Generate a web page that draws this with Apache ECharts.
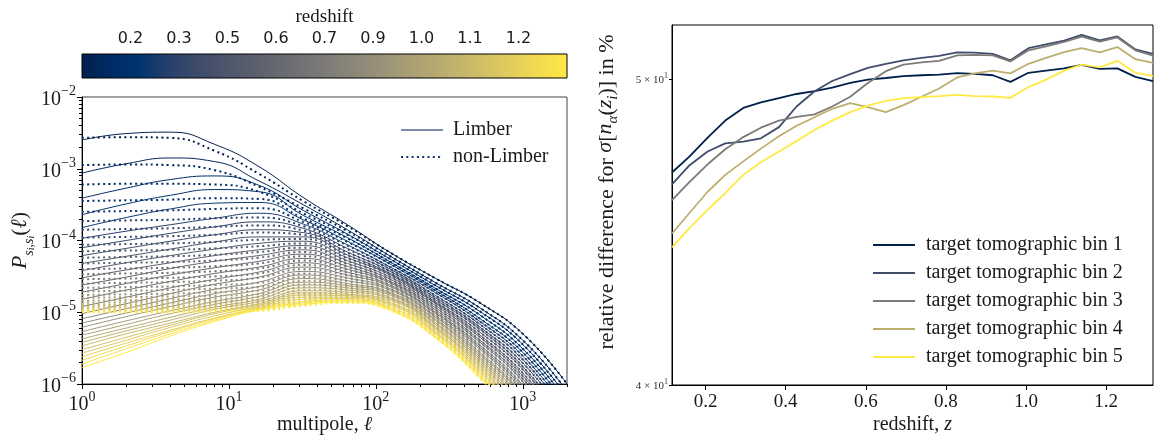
<!DOCTYPE html>
<html>
<head>
<meta charset="utf-8">
<script src="https://cdn.jsdelivr.net/npm/echarts@6/dist/echarts.min.js"></script>
<style>
  html, body { margin: 0; padding: 0; background: #fff; }
  #chart { width: 1154px; height: 437px; }
</style>
</head>
<body>
<div id="chart"></div>
<script>
// ---- data: left panel, angular power spectra per redshift shell (log10 values) ----
const multipoles = [1, 2, 4, 8, 16, 32, 64, 128, 256, 512, 1024, 2000];

const limberLog = [
  [-2.60, -2.51, -2.49, -2.66, -2.97, -3.40, -3.78, -4.18, -4.53, -4.87, -5.32, -6.00],
  [-3.06, -2.93, -2.85, -2.90, -3.17, -3.50, -3.85, -4.23, -4.59, -4.94, -5.41, -6.10],
  [-3.41, -3.27, -3.15, -3.10, -3.23, -3.58, -3.91, -4.27, -4.63, -4.99, -5.47, -6.18],
  [-3.64, -3.49, -3.37, -3.29, -3.32, -3.65, -3.96, -4.31, -4.67, -5.04, -5.53, -6.24],
  [-3.82, -3.68, -3.56, -3.48, -3.47, -3.71, -4.01, -4.34, -4.70, -5.09, -5.58, -6.31],
  [-3.97, -3.87, -3.78, -3.69, -3.62, -3.77, -4.06, -4.38, -4.73, -5.13, -5.63, -6.37],
  [-4.10, -4.00, -3.90, -3.81, -3.74, -3.83, -4.11, -4.41, -4.77, -5.17, -5.68, -6.43],
  [-4.21, -4.11, -4.01, -3.92, -3.85, -3.89, -4.16, -4.44, -4.80, -5.21, -5.73, -6.48],
  [-4.32, -4.22, -4.12, -4.02, -3.95, -3.95, -4.20, -4.47, -4.83, -5.24, -5.78, -6.54],
  [-4.42, -4.31, -4.21, -4.12, -4.04, -4.01, -4.24, -4.49, -4.86, -5.28, -5.82, -6.59],
  [-4.52, -4.41, -4.31, -4.21, -4.13, -4.07, -4.28, -4.52, -4.88, -5.32, -5.87, -6.64],
  [-4.62, -4.51, -4.39, -4.29, -4.21, -4.13, -4.32, -4.55, -4.91, -5.35, -5.91, -6.69],
  [-4.72, -4.60, -4.48, -4.38, -4.29, -4.19, -4.36, -4.58, -4.94, -5.39, -5.95, -6.74],
  [-4.82, -4.69, -4.57, -4.46, -4.37, -4.25, -4.40, -4.60, -4.97, -5.42, -5.99, -6.79],
  [-4.92, -4.79, -4.66, -4.54, -4.44, -4.31, -4.44, -4.63, -5.00, -5.46, -6.04, -6.84],
  [-5.02, -4.88, -4.74, -4.61, -4.51, -4.37, -4.48, -4.65, -5.02, -5.49, -6.08, -6.89],
  [-5.09, -4.95, -4.81, -4.68, -4.58, -4.43, -4.52, -4.68, -5.05, -5.52, -6.12, -6.93],
  [-5.15, -5.01, -4.87, -4.74, -4.64, -4.48, -4.56, -4.70, -5.07, -5.56, -6.16, -6.98],
  [-5.21, -5.06, -4.92, -4.79, -4.69, -4.53, -4.60, -4.73, -5.10, -5.59, -6.19, -7.02],
  [-5.27, -5.12, -4.98, -4.85, -4.74, -4.58, -4.63, -4.75, -5.12, -5.62, -6.23, -7.07],
  [-5.32, -5.17, -5.02, -4.89, -4.78, -4.62, -4.66, -4.77, -5.15, -5.65, -6.27, -7.11],
  [-5.37, -5.22, -5.07, -4.93, -4.82, -4.66, -4.69, -4.80, -5.17, -5.68, -6.31, -7.16],
  [-5.42, -5.26, -5.11, -4.96, -4.85, -4.70, -4.72, -4.82, -5.20, -5.71, -6.35, -7.20],
  [-5.47, -5.30, -5.15, -5.00, -4.88, -4.73, -4.75, -4.84, -5.22, -5.74, -6.38, -7.25],
  [-5.52, -5.35, -5.18, -5.02, -4.90, -4.76, -4.77, -4.87, -5.24, -5.77, -6.42, -7.29],
  [-5.57, -5.39, -5.21, -5.05, -4.92, -4.79, -4.79, -4.89, -5.27, -5.80, -6.46, -7.33],
  [-5.62, -5.43, -5.25, -5.08, -4.94, -4.82, -4.81, -4.91, -5.29, -5.83, -6.49, -7.37],
  [-5.67, -5.47, -5.27, -5.09, -4.95, -4.85, -4.83, -4.94, -5.31, -5.86, -6.53, -7.42],
  [-5.72, -5.51, -5.30, -5.11, -4.96, -4.87, -4.84, -4.96, -5.34, -5.89, -6.56, -7.46],
  [-5.77, -5.56, -5.33, -5.13, -4.97, -4.89, -4.86, -4.98, -5.36, -5.92, -6.60, -7.50]
];

const nonLimberLog = [
  [-2.57, -2.56, -2.57, -2.75, -3.07, -3.45, -3.80, -4.18, -4.53, -4.87, -5.32, -6.00],
  [-2.95, -2.94, -2.95, -3.02, -3.25, -3.55, -3.87, -4.23, -4.59, -4.94, -5.41, -6.10],
  [-3.22, -3.21, -3.21, -3.22, -3.32, -3.62, -3.92, -4.27, -4.63, -4.99, -5.47, -6.18],
  [-3.45, -3.44, -3.43, -3.41, -3.42, -3.69, -3.97, -4.31, -4.67, -5.04, -5.53, -6.24],
  [-3.60, -3.59, -3.58, -3.56, -3.55, -3.74, -4.02, -4.34, -4.70, -5.09, -5.58, -6.31],
  [-3.73, -3.72, -3.71, -3.69, -3.68, -3.80, -4.07, -4.38, -4.73, -5.13, -5.63, -6.37],
  [-3.85, -3.84, -3.83, -3.81, -3.79, -3.86, -4.12, -4.41, -4.77, -5.17, -5.68, -6.43],
  [-3.96, -3.95, -3.94, -3.92, -3.89, -3.92, -4.17, -4.44, -4.80, -5.21, -5.73, -6.48],
  [-4.06, -4.05, -4.04, -4.02, -3.99, -3.98, -4.21, -4.47, -4.83, -5.24, -5.78, -6.54],
  [-4.15, -4.14, -4.13, -4.11, -4.08, -4.04, -4.25, -4.49, -4.86, -5.28, -5.82, -6.59],
  [-4.24, -4.23, -4.22, -4.20, -4.16, -4.10, -4.29, -4.52, -4.88, -5.32, -5.87, -6.64],
  [-4.32, -4.31, -4.30, -4.28, -4.24, -4.16, -4.33, -4.55, -4.91, -5.35, -5.91, -6.69],
  [-4.40, -4.39, -4.38, -4.36, -4.32, -4.22, -4.37, -4.58, -4.94, -5.39, -5.95, -6.74],
  [-4.47, -4.46, -4.45, -4.43, -4.39, -4.28, -4.41, -4.60, -4.97, -5.42, -5.99, -6.79],
  [-4.54, -4.53, -4.52, -4.50, -4.46, -4.34, -4.45, -4.63, -5.00, -5.46, -6.04, -6.84],
  [-4.60, -4.59, -4.58, -4.56, -4.52, -4.40, -4.49, -4.65, -5.02, -5.49, -6.08, -6.89],
  [-4.66, -4.65, -4.64, -4.62, -4.59, -4.46, -4.53, -4.68, -5.05, -5.52, -6.12, -6.93],
  [-4.71, -4.70, -4.69, -4.67, -4.65, -4.51, -4.57, -4.70, -5.07, -5.56, -6.16, -6.98],
  [-4.76, -4.75, -4.74, -4.72, -4.70, -4.56, -4.61, -4.73, -5.10, -5.59, -6.19, -7.02],
  [-4.80, -4.79, -4.78, -4.77, -4.75, -4.61, -4.64, -4.75, -5.12, -5.62, -6.23, -7.07],
  [-4.84, -4.83, -4.82, -4.81, -4.79, -4.65, -4.67, -4.77, -5.15, -5.65, -6.27, -7.11],
  [-4.87, -4.86, -4.85, -4.84, -4.83, -4.69, -4.70, -4.80, -5.17, -5.68, -6.31, -7.16],
  [-4.90, -4.89, -4.88, -4.87, -4.86, -4.73, -4.73, -4.82, -5.20, -5.71, -6.35, -7.20],
  [-4.92, -4.91, -4.91, -4.90, -4.89, -4.76, -4.76, -4.84, -5.22, -5.74, -6.38, -7.25],
  [-4.94, -4.93, -4.93, -4.92, -4.91, -4.79, -4.78, -4.87, -5.24, -5.77, -6.42, -7.29],
  [-4.96, -4.95, -4.95, -4.94, -4.93, -4.82, -4.80, -4.89, -5.27, -5.80, -6.46, -7.33],
  [-4.97, -4.97, -4.96, -4.96, -4.95, -4.85, -4.82, -4.91, -5.29, -5.83, -6.49, -7.37],
  [-4.98, -4.98, -4.98, -4.97, -4.96, -4.87, -4.84, -4.94, -5.31, -5.86, -6.53, -7.42],
  [-4.99, -4.99, -4.99, -4.98, -4.97, -4.89, -4.85, -4.96, -5.34, -5.89, -6.56, -7.46],
  [-5.00, -5.00, -5.00, -4.99, -4.98, -4.91, -4.87, -4.98, -5.36, -5.92, -6.60, -7.50]
];

// colorbar: shell index axis with redshift labels
const cbTickPos = [3, 6, 9, 12, 15, 18, 21, 24, 27];
const cbLabels = ['0.2', '0.3', '0.5', '0.6', '0.7', '0.9', '1.0', '1.1', '1.2'];

// ---- data: right panel ----
const zGrid = [0.116, 0.160, 0.205, 0.249, 0.294, 0.338, 0.383, 0.427, 0.472, 0.516, 0.561, 0.605, 0.650, 0.694,
  0.739, 0.783, 0.828, 0.872, 0.917, 0.961, 1.006, 1.050, 1.095, 1.139, 1.184, 1.228, 1.273, 1.317];
const bin1 = [46.70, 47.25, 47.90, 48.50, 48.95, 49.15, 49.30, 49.45, 49.55, 49.68, 49.85, 49.97, 50.03, 50.10,
  50.13, 50.15, 50.21, 50.18, 50.13, 49.89, 50.22, 50.30, 50.38, 50.51, 50.36, 50.38, 50.07, 49.92];
const bin2 = [46.30, 46.95, 47.42, 47.70, 47.76, 47.88, 48.27, 49.00, 49.55, 49.92, 50.17, 50.40, 50.55, 50.68,
  50.77, 50.84, 50.97, 50.96, 50.92, 50.68, 51.13, 51.27, 51.41, 51.63, 51.42, 51.57, 51.08, 50.92];
const bin3 = [45.77, 46.38, 46.98, 47.50, 47.92, 48.25, 48.50, 48.63, 48.72, 49.00, 49.35, 49.85, 50.28, 50.52,
  50.60, 50.66, 50.86, 50.88, 50.86, 50.64, 51.05, 51.20, 51.36, 51.56, 51.37, 51.53, 51.05, 50.85];
const bin4 = [44.67, 45.35, 46.05, 46.62, 47.08, 47.52, 47.95, 48.32, 48.62, 48.92, 49.12, 48.98, 48.80, 49.05,
  49.35, 49.65, 50.05, 50.20, 50.30, 50.20, 50.55, 50.77, 50.98, 51.13, 50.97, 51.17, 50.72, 50.58];
const bin5 = [44.22, 44.85, 45.45, 46.00, 46.62, 47.05, 47.42, 47.78, 48.18, 48.50, 48.80, 49.03, 49.20, 49.30,
  49.34, 49.37, 49.42, 49.37, 49.36, 49.31, 49.70, 49.97, 50.30, 50.52, 50.42, 50.66, 50.22, 50.11];
const binValues = [bin1, bin2, bin3, bin4, bin5];
const binNames = ['target tomographic bin 1', 'target tomographic bin 2', 'target tomographic bin 3',
  'target tomographic bin 4', 'target tomographic bin 5'];

const xTicksLeft = [1, 10, 100, 1000];
const yTicksLeft = [1e-6, 1e-5, 1e-4, 1e-3, 1e-2];
const xTicksRight = [0.2, 0.4, 0.6, 0.8, 1.0, 1.2];
const yTicksRight = [40, 50];

// ---- styling helpers ----
const SERIF = "'Liberation Serif', 'DejaVu Serif', serif";
const SANS = "'DejaVu Sans', sans-serif";
const TXT = '#1a1a1a';

// cividis lookup table (colormap, not data)
const cividisLut = [
  [0, 32, 76], [0, 42, 102], [0, 52, 110], [39, 63, 108], [60, 74, 107], [76, 85, 107],
  [91, 95, 109], [104, 106, 112], [117, 117, 117], [131, 129, 120], [146, 140, 120], [161, 152, 118],
  [176, 165, 114], [192, 177, 109], [209, 191, 102], [225, 204, 92], [243, 219, 79], [255, 233, 69]
];
function cividis(t) {
  const n = cividisLut.length - 1;
  const x = Math.min(Math.max(t, 0), 1) * n;
  const i = Math.min(Math.floor(x), n - 1);
  const f = x - i;
  const a = cividisLut[i], b = cividisLut[i + 1];
  return 'rgb(' + a.map((v, j) => Math.round(v + (b[j] - v) * f)).join(',') + ')';
}

// minor ticks at 2..9 x decade (matplotlib style)
const minorMult = [2, 3, 4, 5, 6, 7, 8, 9];
const minorX = [];
[1, 10, 100, 1000].forEach(d => minorMult.forEach(m => { if (m * d <= 2000) minorX.push(m * d); }));
const minorY = [];
[1e-6, 1e-5, 1e-4, 1e-3].forEach(d => minorMult.forEach(m => minorY.push(m * d)));

function powLabel(v) {
  const e = Math.round(Math.log10(v));
  return '{b|10}{s|' + String(e).replace('-', '\u2212') + '}';
}
const powRich = {
  b: { fontFamily: SERIF, fontSize: 20, lineHeight: 25, verticalAlign: 'bottom', color: TXT },
  s: { fontFamily: SERIF, fontSize: 14, lineHeight: 14, verticalAlign: 'top', color: TXT }
};
const axisLineBlack = { show: true, lineStyle: { color: '#000', width: 1 } };
const hiddenSymbol = { color: 'transparent', borderWidth: 0, opacity: 0 };

const chart = echarts.init(document.getElementById('chart'));

const series = [];

// colorbar
series.push({
  type: 'custom',
  xAxisIndex: 2,
  yAxisIndex: 2,
  silent: true,
  data: [[0, 0]],
  renderItem: function (params, api) {
    const p0 = api.coord([0, 0]);
    const p1 = api.coord([30, 1]);
    const stops = cividisLut.map((c, i) => ({ offset: i / (cividisLut.length - 1), color: 'rgb(' + c.join(',') + ')' }));
    return {
      type: 'rect',
      shape: { x: p0[0], y: p1[1], width: p1[0] - p0[0], height: p0[1] - p1[1] },
      style: { fill: new echarts.graphic.LinearGradient(0, 0, 1, 0, stops), stroke: '#000', lineWidth: 1 }
    };
  }
});

// shells: Limber (solid) then non-Limber (dotted)
limberLog.forEach((row, k) => {
  const col = cividis(k / (limberLog.length - 1));
  series.push({
    type: 'line', name: 'L' + k, xAxisIndex: 0, yAxisIndex: 0,
    data: multipoles.map((l, i) => [l, Math.pow(10, row[i])]),
    smooth: true, symbol: 'none', silent: true,
    lineStyle: { color: col, width: 1 }
  });
  series.push({
    type: 'line', name: 'N' + k, xAxisIndex: 0, yAxisIndex: 0,
    data: multipoles.map((l, i) => [l, Math.pow(10, nonLimberLog[k][i])]),
    smooth: true, symbol: 'none', silent: true,
    lineStyle: { color: col, width: 2, type: [2, 3.3], cap: 'butt' }
  });
});

// legend entries for the left panel
series.push({ type: 'line', name: 'Limber', xAxisIndex: 0, yAxisIndex: 0, data: [], symbol: 'none',
  itemStyle: { color: '#7c8bab' }, lineStyle: { color: '#7c8bab', width: 1.6 } });
series.push({ type: 'line', name: 'non-Limber', xAxisIndex: 0, yAxisIndex: 0, data: [], symbol: 'none',
  itemStyle: { color: '#123669' }, lineStyle: { color: '#123669', width: 2, type: [2, 3.3] } });

// right panel
binValues.forEach((vals, b) => {
  series.push({
    type: 'line', name: binNames[b], xAxisIndex: 3, yAxisIndex: 3,
    data: zGrid.map((z, i) => [z, vals[i]]),
    symbol: 'none', silent: true,
    itemStyle: { color: cividis(b / 4) },
    lineStyle: { color: cividis(b / 4), width: 1.8 }
  });
});

chart.setOption({
  animation: false,
  backgroundColor: '#fff',
  grid: [
    { left: 82, top: 97, width: 485, height: 287, outerBoundsMode: 'none', containLabel: false,
      show: true, borderColor: '#444', borderWidth: 1, backgroundColor: 'transparent' },
    { left: 82, top: 54, width: 485, height: 24, outerBoundsMode: 'none', containLabel: false },
    { left: 672, top: 25, width: 481, height: 360, outerBoundsMode: 'none', containLabel: false,
      show: true, borderColor: '#000', borderWidth: 1, backgroundColor: 'transparent' }
  ],
  xAxis: [
    {
      gridIndex: 0, type: 'log', min: 1, max: 2000, logBase: 10, position: 'bottom',
      axisLine: axisLineBlack, splitLine: { show: false },
      axisTick: { customValues: xTicksLeft, length: 5, lineStyle: { color: '#000' } },
      axisLabel: { customValues: xTicksLeft, formatter: powLabel, rich: powRich, margin: 6 },
      name: 'multipole, {m|ℓ}', nameLocation: 'middle', nameGap: 31, nameMoveOverlap: false,
      nameTextStyle: { fontFamily: SERIF, fontSize: 20, color: TXT,
        rich: { m: { fontFamily: SERIF, fontSize: 20, fontStyle: 'italic', color: TXT } } }
    },
    {
      gridIndex: 0, type: 'log', min: 1, max: 2000, logBase: 10, position: 'bottom', offset: 0,
      axisLine: { show: false }, splitLine: { show: false }, axisLabel: { show: false },
      axisTick: { customValues: minorX, length: 3, lineStyle: { color: '#000' } }
    },
    {
      gridIndex: 1, type: 'value', min: 0, max: 30, position: 'top',
      axisLine: { show: false }, splitLine: { show: false },
      axisTick: { customValues: cbTickPos, length: 5, lineStyle: { color: '#000' } },
      axisLabel: { customValues: cbTickPos, margin: 7, fontFamily: SANS, fontSize: 16, color: TXT,
        formatter: v => cbLabels[cbTickPos.indexOf(Math.round(v))] || '' },
      name: 'redshift', nameLocation: 'middle', nameGap: 27,
      nameTextStyle: { fontFamily: SERIF, fontSize: 19, color: TXT }
    },
    {
      gridIndex: 2, type: 'value', min: 0.116, max: 1.317, position: 'bottom',
      axisLine: axisLineBlack, splitLine: { show: false },
      axisTick: { customValues: xTicksRight, length: 5, lineStyle: { color: '#000' } },
      axisLabel: { customValues: xTicksRight, margin: 8, fontFamily: SERIF, fontSize: 19, color: TXT,
        formatter: v => v.toFixed(1) },
      name: 'redshift, {m|z}', nameLocation: 'middle', nameGap: 30, nameMoveOverlap: false,
      nameTextStyle: { fontFamily: SERIF, fontSize: 20, color: TXT,
        rich: { m: { fontFamily: SERIF, fontSize: 20, fontStyle: 'italic', color: TXT } } }
    }
  ],
  yAxis: [
    {
      gridIndex: 0, type: 'log', min: 1e-6, max: 1e-2, logBase: 10, position: 'left',
      axisLine: axisLineBlack, splitLine: { show: false },
      axisTick: { customValues: yTicksLeft, length: 5, lineStyle: { color: '#000' } },
      axisLabel: { customValues: yTicksLeft, formatter: powLabel, rich: powRich, margin: 6 },
      name: '{p|P}{sb|s}{ss|i}{sb|,s}{ss|i}{n|(}{p|ℓ}{n|)}', nameLocation: 'middle', nameGap: 46, nameRotate: 90,
      nameTextStyle: {
        rich: {
          p: { fontFamily: SERIF, fontSize: 22, fontStyle: 'italic', lineHeight: 27, verticalAlign: 'top', color: TXT },
          n: { fontFamily: SERIF, fontSize: 22, lineHeight: 27, verticalAlign: 'top', color: TXT },
          sb: { fontFamily: SERIF, fontSize: 14, fontStyle: 'italic', lineHeight: 14, verticalAlign: 'bottom', color: TXT },
          ss: { fontFamily: SERIF, fontSize: 10, fontStyle: 'italic', lineHeight: 10, verticalAlign: 'bottom', color: TXT }
        }
      }
    },
    {
      gridIndex: 0, type: 'log', min: 1e-6, max: 1e-2, logBase: 10, position: 'left', offset: 0,
      axisLine: { show: false }, splitLine: { show: false }, axisLabel: { show: false },
      axisTick: { customValues: minorY, length: 3, lineStyle: { color: '#000' } }
    },
    { gridIndex: 1, type: 'value', min: 0, max: 1, show: false },
    {
      gridIndex: 2, type: 'log', min: 40, max: 52, logBase: 10, position: 'left',
      axisLine: axisLineBlack, splitLine: { show: false },
      axisTick: { customValues: yTicksRight, length: 3, lineStyle: { color: '#000' } },
      axisLabel: { customValues: yTicksRight, margin: 4,
        formatter: v => '{b|' + Math.round(v / 10) + ' \u00d7 10}{s|1}',
        rich: {
          b: { fontFamily: SERIF, fontSize: 11, lineHeight: 14, verticalAlign: 'bottom', color: '#333' },
          s: { fontFamily: SERIF, fontSize: 8, lineHeight: 8, verticalAlign: 'top', color: '#333' }
        } },
      name: 'relative difference for {m|σ}[{m|n}{sb|α}({m|z}{sb|i})] in %', nameLocation: 'middle', nameGap: 51, nameRotate: 90,
      nameTextStyle: { fontFamily: SERIF, fontSize: 22, color: TXT, lineHeight: 27, padding: [0, 0, 0, 26],
        rich: {
          m: { fontFamily: SERIF, fontSize: 22, fontStyle: 'italic', lineHeight: 27, verticalAlign: 'top', color: TXT },
          sb: { fontFamily: SERIF, fontSize: 15, fontStyle: 'italic', lineHeight: 15, verticalAlign: 'bottom', color: TXT }
        } }
    }
  ],
  legend: [
    {
      data: ['Limber', 'non-Limber'], orient: 'vertical', left: 395, top: 115,
      itemWidth: 42, itemHeight: 14, itemGap: 7, selectedMode: false,
      itemStyle: hiddenSymbol,
      textStyle: { fontFamily: SERIF, fontSize: 20, color: TXT, lineHeight: 20, padding: [0, 0, 0, 5] }
    },
    {
      data: binNames, orient: 'vertical', left: 867, top: 230,
      itemWidth: 42, itemHeight: 14, itemGap: 8, selectedMode: false,
      itemStyle: hiddenSymbol,
      textStyle: { fontFamily: SERIF, fontSize: 20, color: TXT, lineHeight: 20, padding: [0, 0, 0, 6] }
    }
  ],
  series: series
});
</script>
</body>
</html>
